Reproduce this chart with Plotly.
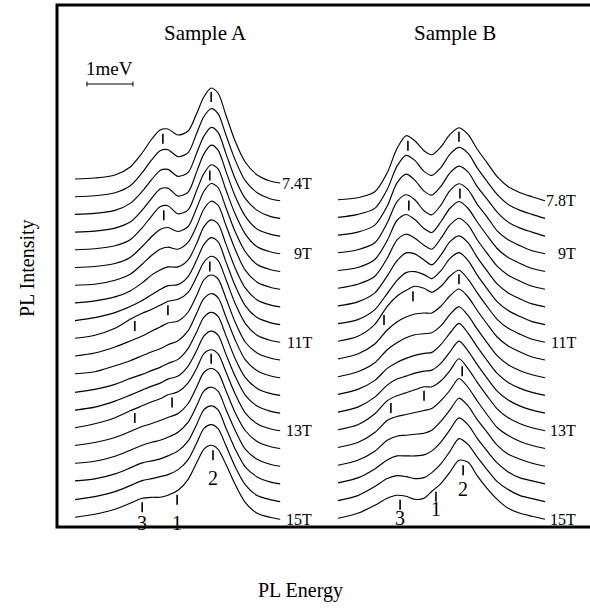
import numpy as np
import plotly.graph_objects as go

# Magnetic field of each stacked spectrum (tesla), top to bottom
fields_A = [7.4, 7.8, 8.2, 8.6, 9.0, 9.4, 9.8, 10.2, 10.6, 11.0,
            11.4, 11.8, 12.2, 12.6, 13.0, 13.4, 13.8, 14.2, 14.6, 15.0]
fields_B = [7.8, 8.2, 8.6, 9.0, 9.4, 9.8, 10.2, 10.6, 11.0,
            11.4, 11.8, 12.2, 12.6, 13.0, 13.4, 13.8, 14.2, 14.6, 15.0]

# Relative photon energy of the sampled points (meV)
energy_A = [0.00, 0.43, 0.87, 1.20, 1.46, 1.67, 1.85, 2.02, 2.24, 2.46,
            2.65, 2.80, 2.96, 3.11, 3.28, 3.48, 3.70, 3.96, 4.24, 4.46]
energy_B = [0.00, 0.43, 0.80, 1.07, 1.28, 1.48, 1.67, 1.87, 2.04, 2.24,
            2.43, 2.63, 2.83, 3.02, 3.24, 3.46, 3.70, 3.96, 4.22, 4.50]

# PL intensity (arb. units), one row per field
pl_A = [
    [4, 5, 8, 16, 30, 44, 53, 54, 48, 52, 70, 86, 95, 90, 68, 42, 21, 8, 2, 0],
    [4, 5, 8, 15, 28, 41, 50, 51, 44, 48, 68, 84, 92, 87, 66, 41, 20, 8, 2, 0],
    [4, 5, 8, 15, 27, 39, 48, 49, 42, 46, 66, 82, 91, 86, 65, 40, 20, 8, 2, 0],
    [4, 5, 8, 14, 26, 38, 47, 48, 40, 44, 65, 82, 91, 86, 65, 40, 20, 7, 2, 0],
    [4, 5, 8, 14, 26, 38, 47, 48, 40, 44, 64, 80, 89, 85, 64, 40, 20, 7, 2, 0],
    [4, 5, 8, 14, 25, 35, 42, 44, 40, 45, 64, 80, 88, 84, 64, 40, 20, 7, 2, 0],
    [4, 5, 9, 15, 25, 34, 40, 42, 40, 47, 64, 80, 88, 84, 64, 40, 19, 7, 2, 0],
    [4, 6, 10, 16, 24, 32, 37, 40, 40, 47, 64, 80, 87, 83, 63, 39, 19, 7, 2, 0],
    [4, 7, 12, 18, 24, 30, 35, 39, 40, 48, 65, 80, 87, 83, 63, 39, 19, 7, 2, 0],
    [4, 7, 14, 23, 29, 33, 37, 41, 43, 50, 66, 80, 86, 82, 63, 39, 19, 7, 2, 0],
    [4, 7, 13, 19, 24, 29, 33, 37, 39, 48, 65, 80, 85, 81, 62, 38, 18, 7, 2, 0],
    [4, 6, 12, 17, 22, 26, 29, 33, 37, 47, 65, 79, 84, 80, 61, 38, 18, 7, 2, 0],
    [3, 6, 11, 17, 21, 25, 28, 32, 36, 47, 64, 78, 83, 79, 60, 37, 18, 7, 2, 0],
    [3, 6, 12, 18, 23, 27, 30, 34, 37, 47, 63, 77, 82, 78, 59, 37, 18, 7, 2, 0],
    [3, 7, 13, 20, 25, 29, 32, 36, 39, 48, 63, 77, 81, 77, 59, 37, 18, 7, 2, 0],
    [3, 6, 11, 17, 22, 25, 28, 31, 35, 45, 62, 76, 80, 76, 58, 36, 18, 7, 2, 0],
    [3, 5, 10, 16, 21, 24, 26, 29, 34, 44, 61, 75, 79, 75, 57, 36, 17, 7, 2, 0],
    [3, 5, 10, 16, 21, 23, 25, 28, 33, 43, 60, 74, 78, 74, 56, 35, 17, 7, 2, 0],
    [2, 5, 10, 16, 21, 23, 25, 27, 32, 42, 59, 73, 77, 73, 56, 35, 17, 6, 2, 0],
    [2, 5, 10, 16, 21, 22, 22, 24, 29, 40, 57, 70, 74, 70, 55, 35, 17, 6, 2, 0],
]
pl_B = [
    [1, 3, 9, 28, 52, 65, 60, 50, 46, 54, 66, 73, 66, 52, 38, 24, 14, 8, 4, 0],
    [1, 4, 10, 29, 52, 63, 58, 47, 43, 51, 64, 71, 65, 51, 37, 24, 14, 8, 4, 0],
    [1, 4, 11, 30, 53, 62, 56, 45, 41, 50, 63, 70, 64, 50, 37, 24, 14, 8, 4, 0],
    [1, 4, 11, 31, 52, 59, 54, 43, 39, 49, 63, 70, 64, 50, 37, 23, 14, 8, 3, 0],
    [1, 4, 12, 31, 51, 57, 52, 43, 39, 50, 63, 70, 63, 50, 36, 23, 14, 8, 3, 0],
    [1, 5, 13, 31, 49, 55, 51, 44, 40, 51, 64, 71, 64, 50, 36, 23, 14, 8, 3, 0],
    [1, 5, 14, 31, 46, 54, 53, 47, 42, 52, 65, 71, 64, 50, 36, 23, 14, 8, 3, 0],
    [1, 5, 15, 31, 44, 52, 53, 50, 46, 54, 66, 72, 64, 50, 36, 23, 14, 8, 3, 0],
    [1, 6, 18, 36, 46, 52, 56, 54, 50, 56, 66, 72, 63, 50, 36, 23, 14, 8, 3, 0],
    [1, 6, 16, 30, 38, 43, 46, 47, 47, 54, 64, 71, 63, 50, 36, 23, 14, 8, 3, 0],
    [1, 6, 15, 28, 35, 40, 43, 44, 45, 52, 63, 71, 62, 49, 35, 22, 13, 7, 3, 0],
    [1, 6, 15, 27, 33, 37, 40, 42, 43, 51, 62, 72, 62, 49, 35, 22, 13, 7, 3, 0],
    [1, 6, 16, 28, 34, 37, 40, 42, 43, 50, 61, 72, 62, 49, 35, 22, 13, 7, 3, 0],
    [1, 6, 17, 30, 35, 38, 41, 44, 44, 50, 60, 72, 62, 49, 35, 22, 13, 7, 3, 0],
    [1, 6, 16, 28, 32, 34, 36, 38, 40, 48, 58, 70, 61, 48, 34, 21, 13, 7, 3, 0],
    [1, 6, 15, 26, 30, 31, 32, 33, 36, 45, 56, 68, 60, 47, 34, 21, 12, 7, 3, 0],
    [1, 6, 15, 24, 28, 28, 28, 29, 33, 42, 54, 66, 59, 46, 33, 21, 12, 6, 3, 0],
    [1, 6, 15, 23, 26, 25, 23, 24, 29, 38, 50, 63, 57, 45, 32, 20, 12, 6, 3, 0],
    [1, 6, 14, 21, 24, 23, 20, 21, 28, 36, 47, 59, 57, 44, 31, 20, 11, 6, 3, 0],
]

# Field labels at the right end of selected spectra
label_fields_A = [7.4, 9.0, 11.0, 13.0, 15.0]
label_text_A = ["7.4T", "9T", "11T", "13T", "15T"]
label_fields_B = [7.8, 9.0, 11.0, 13.0, 15.0]
label_text_B = ["7.8T", "9T", "11T", "13T", "15T"]

# Peak markers: field (T) and energy (meV)
mark_fields_A = [7.4, 7.4, 9.0, 9.0, 11.0, 11.0, 11.0, 13.0, 13.0, 13.0, 15.0, 15.0, 15.0]
mark_energy_A = [2.96, 1.91, 2.93, 1.93, 2.93, 2.02, 1.30, 2.96, 2.11, 1.30, 3.00, 2.22, 1.46]
mark_fields_B = [7.8, 7.8, 9.0, 9.0, 11.0, 11.0, 11.0, 13.0, 13.0, 13.0, 15.0, 15.0, 15.0]
mark_energy_B = [1.52, 2.63, 2.65, 1.54, 2.63, 1.63, 1.00, 2.70, 1.87, 1.15, 2.72, 2.13, 1.35]

# Peak numbering under the 15 T spectra
peak_names = ["3", "1", "2"]
peak_energy_A = [1.46, 2.22, 3.00]
peak_energy_B = [1.35, 2.13, 2.72]

# ---- layout constants (pixels) ----
W, H = 590, 608
STEP = 17.7          # vertical offset between successive spectra (0.4 T)
TOP_BASE = 183       # pixel row of the 7.4 T baseline
PX_PER_MEV = 46      # horizontal scale
X0_A, X0_B = 75, 338  # pixel column of zero energy in each panel
FIELD0, DFIELD = 7.4, 0.4
SERIF = "Liberation Serif, Times New Roman, serif"
INK = "black"


def offset(field):
    return -round((field - FIELD0) / DFIELD) * STEP


fig = go.Figure()


def add_panel(fields, energy, pl, xaxis):
    for f, row in zip(fields, pl):
        y = np.asarray(row, float) + offset(f)
        fig.add_trace(go.Scatter(
            x=energy, y=y, xaxis=xaxis, yaxis="y", mode="lines",
            line=dict(color=INK, width=1.15, shape="spline", smoothing=0.8),
            hoverinfo="skip", showlegend=False))


def add_marks(fields, energy, pl, mfields, menergy, xaxis):
    xs, ys = [], []
    for f, e in zip(mfields, menergy):
        row = pl[fields.index(f)]
        yc = np.interp(e, energy, row) + offset(f)
        xs += [e, e, None]
        ys += [yc - 4, yc - 14, None]
    fig.add_trace(go.Scatter(
        x=xs, y=ys, xaxis=xaxis, yaxis="y", mode="lines",
        line=dict(color=INK, width=1.6), hoverinfo="skip", showlegend=False))


add_panel(fields_A, energy_A, pl_A, "x")
add_panel(fields_B, energy_B, pl_B, "x2")
add_marks(fields_A, energy_A, pl_A, mark_fields_A, mark_energy_A, "x")
add_marks(fields_B, energy_B, pl_B, mark_fields_B, mark_energy_B, "x2")


def text(x, y, s, size, xref="paper", yref="paper", xanchor="center", **kw):
    return dict(x=x, y=y, xref=xref, yref=yref, text=s, showarrow=False,
                xanchor=xanchor, yanchor="middle",
                font=dict(family=SERIF, size=size, color=INK), **kw)


ann = []
# field labels
for f, t in zip(label_fields_A, label_text_A):
    ann.append(text((314 - X0_A) / PX_PER_MEV, offset(f), t, 16, "x", "y", "right"))
for f, t in zip(label_fields_B, label_text_B):
    ann.append(text((578 - X0_B) / PX_PER_MEV, offset(f), t, 16, "x2", "y", "right"))

# peak numbers under the last spectrum
base15 = offset(15.0)
for name, e, dy in zip(peak_names, peak_energy_A, [-4, -4, 41]):
    ann.append(text(e, base15 + dy, name, 20, "x", "y"))
for name, e, dy in zip(peak_names, peak_energy_B, [1, 10, 30]):
    ann.append(text(e, base15 + dy, name, 20, "x2", "y"))

# panel titles and axis titles
ann += [
    text(205 / W, 1 - 33 / H, "Sample A", 21),
    text(455 / W, 1 - 33 / H, "Sample B", 21),
    text(27 / W, 1 - 268 / H, "PL Intensity", 20, textangle=-90),
    text(301 / W, 1 - 590 / H, "PL Energy", 20),
    text(0.26 + 0.5, TOP_BASE - 68, "1meV", 19, "x", "y"),
]

# 1 meV scale bar
bar_y = TOP_BASE - 84
shapes = [
    dict(type="line", xref="x", yref="y", x0=0.26, x1=1.26, y0=bar_y, y1=bar_y,
         line=dict(color=INK, width=1)),
    dict(type="line", xref="x", yref="y", x0=0.26, x1=0.26, y0=bar_y - 2.5, y1=bar_y + 2.5,
         line=dict(color=INK, width=1)),
    dict(type="line", xref="x", yref="y", x0=1.26, x1=1.26, y0=bar_y - 2.5, y1=bar_y + 2.5,
         line=dict(color=INK, width=1)),
    # outer frame (its right side runs off the page)
    dict(type="rect", xref="paper", yref="paper", x0=57 / W, x1=600 / W,
         y0=1 - 527 / H, y1=1 - 5 / H, line=dict(color=INK, width=3)),
]

axis_common = dict(visible=False, showgrid=False, zeroline=False, fixedrange=True)
fig.update_layout(
    width=W, height=H, margin=dict(l=0, r=0, t=0, b=0),
    paper_bgcolor="white", plot_bgcolor="white", showlegend=False,
    xaxis=dict(range=[-X0_A / PX_PER_MEV, (W - X0_A) / PX_PER_MEV], domain=[0, 1], **axis_common),
    xaxis2=dict(range=[-X0_B / PX_PER_MEV, (W - X0_B) / PX_PER_MEV], domain=[0, 1],
                overlaying="x", **axis_common),
    yaxis=dict(range=[TOP_BASE - H, TOP_BASE], domain=[0, 1], **axis_common),
    annotations=ann, shapes=shapes,
)

fig.write_html("out.html")
